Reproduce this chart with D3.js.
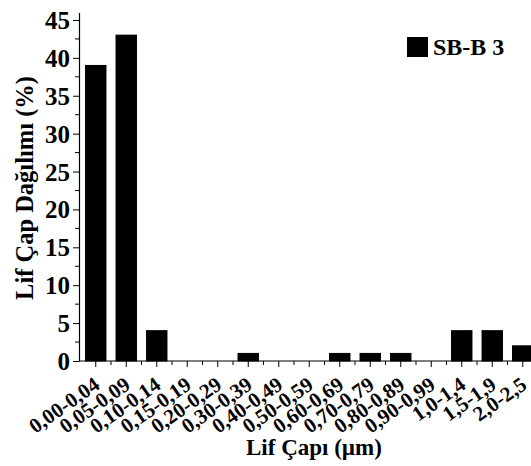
<!DOCTYPE html>
<html>
<head>
<meta charset="utf-8">
<script src="https://cdn.jsdelivr.net/npm/d3@7"></script>
<style>
  body { margin: 0; background: #fff; }
  svg { display: block; }
  svg text { font-family: "Liberation Serif", "DejaVu Serif", serif; font-weight: bold; }
</style>
</head>
<body>
<div id="container"></div>
<script>
// ******* Data *******
var categories = ["0,00-0,04", "0,05-0,09", "0,10-0,14", "0,15-0,19", "0,20-0,29", "0,30-0,39",
  "0,40-0,49", "0,50-0,59", "0,60-0,69", "0,70-0,79", "0,80-0,89", "0,90-0,99",
  "1,0-1,4", "1,5-1,9", "2,0-2,5"];
var values = [39, 43, 4, 0, 0, 1, 0, 0, 1, 1, 1, 0, 4, 4, 2];
var yTicks = [0, 5, 10, 15, 20, 25, 30, 35, 40, 45];
var seriesName = "SB-B 3";

var width = 531, height = 466;
var svg = d3.select("#container").append("svg")
  .attr("width", width)
  .attr("height", height);

// ******* Scales *******
var x = d3.scaleBand()
  .domain(categories)
  .range([80.5, 80.5 + 15 * 30.5])
  .paddingInner(0.33)
  .paddingOuter(0.165);

var y = d3.scaleLinear().domain([0, 46]).range([361, 12.4]);

// ******* Bars *******
svg.selectAll("rect.bar")
  .data(values)
  .enter().append("rect")
  .attr("class", "bar")
  .attr("x", function(d, i) { return x(categories[i]); })
  .attr("width", x.bandwidth())
  .attr("y", function(d) { return y(d); })
  .attr("height", function(d) { return y(0) - y(d); })
  .style("fill", "#000")
  .style("stroke", "#000")
  .style("stroke-width", 1);

// ******* Axes *******
var yAxis = d3.axisLeft(y).tickValues(yTicks).tickSize(6).tickSizeOuter(0);
var gy = svg.append("g")
  .attr("transform", "translate(79,0)")
  .call(yAxis)
  .attr("font-family", null);
gy.selectAll("text")
  .style("font-size", "25px")
  .attr("x", -9)
  .attr("dy", "0.34em");

// minor y ticks
gy.selectAll("line.minor")
  .data(d3.range(2.5, 46, 5))
  .enter().append("line")
  .attr("class", "minor")
  .attr("x1", -4).attr("x2", 0)
  .attr("y1", function(d) { return y(d); })
  .attr("y2", function(d) { return y(d); })
  .attr("stroke", "#000");

var xAxis = d3.axisBottom(x).tickSize(6).tickSizeOuter(0);
var gx = svg.append("g")
  .attr("transform", "translate(0," + y(0) + ")")
  .call(xAxis)
  .attr("font-family", null);
gx.select(".domain").attr("d", "M79,0H531");
gx.selectAll("text")
  .style("font-size", "21px")
  .style("text-anchor", "end")
  .attr("x", -11)
  .attr("y", 25)
  .attr("dy", 0)
  .attr("transform", "rotate(-35)");

// minor x ticks between categories
gx.selectAll("line.minor")
  .data(categories.slice(1))
  .enter().append("line")
  .attr("class", "minor")
  .attr("x1", function(d) { return x(d) - x.step() * x.paddingInner() / 2; })
  .attr("x2", function(d) { return x(d) - x.step() * x.paddingInner() / 2; })
  .attr("y1", 0).attr("y2", 4)
  .attr("stroke", "#000");

svg.selectAll(".domain").attr("stroke-width", 1.2);

// ******* Axis titles *******
svg.append("text")
  .attr("text-anchor", "middle")
  .attr("x", 314)
  .attr("y", 455)
  .style("font-size", "23px")
  .text("Lif Çapı (µm)");

svg.append("text")
  .attr("text-anchor", "middle")
  .attr("transform", "translate(33,188)rotate(-90)")
  .style("font-size", "24.5px")
  .text("Lif Çap Dağılımı (%)");

// ******* Legend *******
svg.append("rect")
  .attr("x", 407).attr("y", 37)
  .attr("width", 21).attr("height", 20)
  .style("fill", "#000");
svg.append("text")
  .attr("x", 433)
  .attr("y", 55)
  .style("font-size", "24px")
  .text(seriesName);
</script>
</body>
</html>
